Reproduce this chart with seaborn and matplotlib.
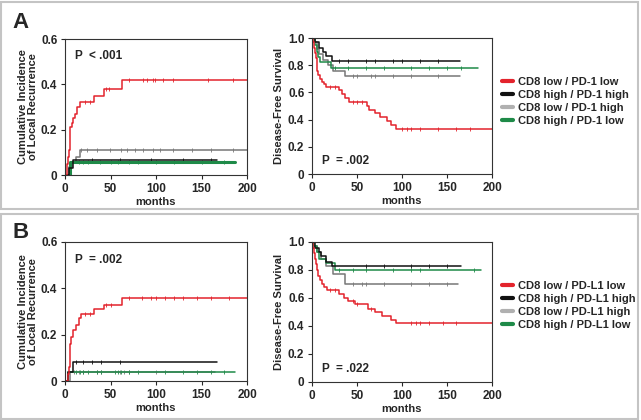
import numpy as np
import pandas as pd
import matplotlib
matplotlib.use("Agg")
import matplotlib.pyplot as plt
from matplotlib.patches import Rectangle
from matplotlib.lines import Line2D
import seaborn as sns

sns.set_style("ticks")
plt.rcParams['font.family'] = ['Liberation Sans', 'DejaVu Sans']
plt.rcParams['font.weight'] = 'bold'

# ---------------- data ----------------
groups_A = ["CD8 low / PD-1 low", "CD8 high / PD-1 high", "CD8 low / PD-1 high", "CD8 high / PD-1 low"]
groups_B = ["CD8 low / PD-L1 low", "CD8 high / PD-L1 high", "CD8 low / PD-L1 high", "CD8 high / PD-L1 low"]
colors = ["#e3232c", "#111111", "#777777", "#1e8a48"]
xticks = [0, 50, 100, 150, 200]

# Panel A, cumulative incidence of local recurrence
A_ci_red_t = [0, 1.8, 2.6, 3.7, 4.4, 5.5, 6, 7.3, 9, 11, 13.5, 16.5, 32, 43, 63, 200]
A_ci_red_v = [0, 0.02, 0.05, 0.08, 0.11, 0.16, 0.21, 0.23, 0.25, 0.27, 0.30, 0.32, 0.35, 0.38, 0.42, 0.42]
A_ci_blk_t = [0, 4, 9, 167]
A_ci_blk_v = [0, 0.03, 0.066, 0.066]
A_ci_gry_t = [0, 4, 8, 12, 16, 200]
A_ci_gry_v = [0, 0.035, 0.055, 0.08, 0.11, 0.11]
A_ci_grn_t = [0, 5, 187]
A_ci_grn_v = [0, 0.057, 0.057]
A_ci_red_c = [22, 27, 45, 48, 70, 86, 90, 97, 99, 108, 119, 157, 185]
A_ci_blk_c = [30, 60, 95, 130, 160]
A_ci_gry_c = [18, 24, 35, 49, 62, 68, 77, 86, 97, 104, 119, 140, 160, 185]
A_ci_grn_c = [15, 20, 25, 38, 50, 58, 70, 80, 100, 120, 150, 175]

# Panel A, disease-free survival
A_km_red_t = [0, 1, 2, 3, 4, 5, 6, 7, 9, 11, 13, 16, 30, 33, 37, 41, 61, 63, 70, 76, 83, 88, 93, 200]
A_km_red_v = [1, 0.97, 0.93, 0.89, 0.85, 0.80, 0.76, 0.73, 0.70, 0.68, 0.66, 0.64, 0.62, 0.59, 0.56, 0.53, 0.50, 0.47, 0.45, 0.42, 0.39, 0.36, 0.33, 0.33]
A_km_blk_t = [0, 3, 8, 12, 15, 22, 164]
A_km_blk_v = [1, 0.97, 0.93, 0.90, 0.87, 0.83, 0.83]
A_km_gry_t = [0, 2, 5, 8, 12, 18, 23, 37, 164]
A_km_gry_v = [1, 0.97, 0.92, 0.88, 0.84, 0.80, 0.76, 0.72, 0.72]
A_km_grn_t = [0, 3, 5, 7, 9, 21, 184]
A_km_grn_v = [1, 0.95, 0.90, 0.86, 0.82, 0.78, 0.78]
A_km_red_c = [20, 25, 45, 50, 55, 100, 105, 110, 120, 140, 160, 175]
A_km_blk_c = [30, 40, 60, 70, 90, 100, 120, 140]
A_km_gry_c = [45, 50, 65, 70, 90, 110, 140]
A_km_grn_c = [25, 40, 60, 80, 110, 130, 150, 165]

# Panel B, cumulative incidence of local recurrence
B_ci_red_t = [0, 3, 4, 5, 6, 7, 9, 12, 15, 18, 32, 43, 63, 200]
B_ci_red_v = [0, 0.03, 0.06, 0.10, 0.16, 0.19, 0.22, 0.24, 0.27, 0.29, 0.31, 0.33, 0.36, 0.36]
B_ci_blk_t = [0, 3, 9, 167]
B_ci_blk_v = [0, 0.04, 0.083, 0.083]
B_ci_gry_t = [0, 5, 165]
B_ci_gry_v = [0, 0.04, 0.04]
B_ci_grn_t = [0, 3, 187]
B_ci_grn_v = [0, 0.04, 0.04]
B_ci_red_c = [22, 27, 45, 50, 70, 85, 95, 100, 110, 120, 130, 145, 160, 180]
B_ci_blk_c = [12, 20, 30, 40, 60]
B_ci_gry_c = [10, 15, 20, 35, 40, 60, 65, 70, 100]
B_ci_grn_c = [12, 17, 20, 25, 35, 40, 55, 58, 62, 70, 80, 110, 130, 145, 160, 175]

# Panel B, disease-free survival
B_km_red_t = [0, 1, 2, 3, 4, 5, 7, 9, 11, 13, 17, 30, 35, 40, 48, 62, 70, 78, 88, 93, 200]
B_km_red_v = [1, 0.96, 0.92, 0.88, 0.84, 0.80, 0.76, 0.73, 0.70, 0.68, 0.66, 0.63, 0.60, 0.58, 0.56, 0.52, 0.50, 0.47, 0.44, 0.42, 0.42]
B_km_blk_t = [0, 3, 8, 10, 15, 22, 165]
B_km_blk_v = [1, 0.96, 0.93, 0.90, 0.86, 0.83, 0.83]
B_km_gry_t = [0, 2, 5, 10, 15, 23, 37, 162]
B_km_gry_v = [1, 0.97, 0.93, 0.88, 0.83, 0.77, 0.70, 0.70]
B_km_grn_t = [0, 2, 5, 8, 15, 25, 188]
B_km_grn_v = [1, 0.97, 0.93, 0.88, 0.85, 0.80, 0.80]
B_km_red_c = [20, 25, 45, 50, 65, 110, 115, 120, 130, 145, 160]
B_km_blk_c = [60, 80, 110, 130, 150]
B_km_gry_c = [45, 55, 60, 80, 110, 130, 150]
B_km_grn_c = [30, 45, 60, 90, 110, 120, 180]

p_texts = ["P  < .001", "P  = .002", "P  = .002", "P  = .022"]


def step_value(t, v, x):
    idx = np.searchsorted(t, x, side="right") - 1
    return np.asarray(v)[idx]


def build(groups, curves, cens):
    rows, crow = [], []
    for g, (t, v), c in zip(groups, curves, cens):
        for ti, vi in zip(t, v):
            rows.append((ti, vi, g))
        for ci in c:
            crow.append((ci, step_value(t, v, ci), g))
    return (pd.DataFrame(rows, columns=["months", "value", "group"]),
            pd.DataFrame(crow, columns=["months", "value", "group"]))


W, H = 641, 420
fig = plt.figure(figsize=(W / 100, H / 100), dpi=100)

def ax_at(l, t, r, b):
    return fig.add_axes([l / W, 1 - b / H, (r - l) / W, (b - t) / H])

panels = [
    (ax_at(65, 39, 247, 175), groups_A,
     [(A_ci_red_t, A_ci_red_v), (A_ci_blk_t, A_ci_blk_v), (A_ci_gry_t, A_ci_gry_v), (A_ci_grn_t, A_ci_grn_v)],
     [A_ci_red_c, A_ci_blk_c, A_ci_gry_c, A_ci_grn_c], "ci"),
    (ax_at(312, 38, 492, 174), groups_A,
     [(A_km_red_t, A_km_red_v), (A_km_blk_t, A_km_blk_v), (A_km_gry_t, A_km_gry_v), (A_km_grn_t, A_km_grn_v)],
     [A_km_red_c, A_km_blk_c, A_km_gry_c, A_km_grn_c], "km"),
    (ax_at(65, 242, 247, 381), groups_B,
     [(B_ci_red_t, B_ci_red_v), (B_ci_blk_t, B_ci_blk_v), (B_ci_gry_t, B_ci_gry_v), (B_ci_grn_t, B_ci_grn_v)],
     [B_ci_red_c, B_ci_blk_c, B_ci_gry_c, B_ci_grn_c], "ci"),
    (ax_at(312, 242, 492, 382), groups_B,
     [(B_km_red_t, B_km_red_v), (B_km_blk_t, B_km_blk_v), (B_km_gry_t, B_km_gry_v), (B_km_grn_t, B_km_grn_v)],
     [B_km_red_c, B_km_blk_c, B_km_gry_c, B_km_grn_c], "km"),
]

fs = 8
tfs = 8.5
for i, (ax, groups, curves, cens, kind) in enumerate(panels):
    df, cdf = build(groups, curves, cens)
    pal = dict(zip(groups, colors))
    order = [groups[2], groups[3], groups[1], groups[0]]
    for g in order:
        sub = df[df.group == g]
        lw = 2.2 if (kind == "ci" and g == groups[3] and i == 0) else 1.1
        sns.lineplot(data=sub, x="months", y="value", color=pal[g], drawstyle="steps-post",
                     estimator=None, sort=False, lw=lw, legend=False, ax=ax)
        csub = cdf[cdf.group == g]
        sns.scatterplot(data=csub, x="months", y="value", color=pal[g], marker="|",
                        s=7, linewidth=0.6, legend=False, ax=ax)
    ax.set_xlim(0, 200)
    ax.set_xticks(xticks)
    if kind == "ci":
        ax.set_ylim(0, 0.6)
        ax.set_yticks([0, 0.2, 0.4, 0.6])
        ax.set_yticklabels(["0", "0.2", "0.4", "0.6"])
        ax.set_ylabel("Cumulative Incidence\nof Local Recurrence", fontsize=fs, fontweight="bold",
                      labelpad=2, linespacing=1.0)
        ax.text(0.055, 0.85, p_texts[i], transform=ax.transAxes, fontsize=8.5, fontweight="bold")
    else:
        ax.set_ylim(0, 1.0)
        ax.set_yticks([0, 0.2, 0.4, 0.6, 0.8, 1.0])
        ax.set_yticklabels(["0", "0.2", "0.4", "0.6", "0.8", "1.0"])
        ax.set_ylabel("Disease-Free Survival", fontsize=fs, fontweight="bold", labelpad=3)
        ax.text(0.055, 0.07, p_texts[i], transform=ax.transAxes, fontsize=8.5, fontweight="bold")
    ax.set_xlabel("months", fontsize=fs, fontweight="bold", labelpad=2)
    ax.tick_params(labelsize=tfs, length=3, width=0.8, pad=2.5)
    for lab in ax.get_xticklabels() + ax.get_yticklabels():
        lab.set_fontweight("bold")
    for s in ax.spines.values():
        s.set_color("#333333")
        s.set_linewidth(0.8)

# legends
for groups, ytop in [(groups_A, 77), (groups_B, 281)]:
    handles = [Line2D([0], [0], color=c, lw=3) for c in
               [colors[0], colors[1], "#b0b0b0", colors[3]]]
    fig.legend(handles, groups, loc="upper left", bbox_to_anchor=(502 / W, 1 - ytop / H),
               frameon=False, handlelength=1.0, handletextpad=0.4, labelspacing=0.28,
               borderpad=0, borderaxespad=0, prop={"size": 8, "weight": "bold"})

# panel letters
fig.text(12 / W, 1 - 28 / H, "A", fontsize=16, fontweight="bold")
fig.text(12 / W, 1 - 238 / H, "B", fontsize=16, fontweight="bold")

# panel frames
for (t, b) in [(1.5, 208.5), (213.5, 418.5)]:
    fig.add_artist(Rectangle((1 / W, 1 - b / H), 637 / W, (b - t) / H, transform=fig.transFigure,
                             fill=False, edgecolor="#c4c4c4", lw=1.5))

fig.savefig("out.png", dpi=100)
